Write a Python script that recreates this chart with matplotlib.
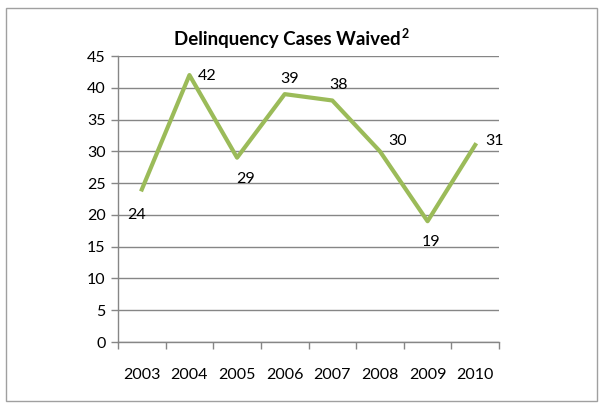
import matplotlib
matplotlib.use("Agg")
import matplotlib.pyplot as plt
from matplotlib.patches import Rectangle

years = ["2003", "2004", "2005", "2006", "2007", "2008", "2009", "2010"]
cases = [24, 42, 29, 39, 38, 30, 19, 31]
# label offsets in pixels (dx, dy) relative to each point
label_offsets = [(-5, -26), (18, -1), (9, -21), (5, 15), (6, 15), (18, 10), (3, -21), (19, 4)]

plt.rcParams['font.family'] = ['Lato', 'DejaVu Sans']

fig = plt.figure(figsize=(5.99, 4.03), dpi=100)
ax = fig.add_axes([118 / 599, 1 - 342 / 403, 381 / 599, 286 / 403])

x = list(range(len(years)))
ax.plot(x, cases, color="#9BBB59", lw=3, solid_joinstyle="round", zorder=3)

for xi, v, (dx, dy) in zip(x, cases, label_offsets):
    ax.annotate(str(v), (xi, v), xytext=(dx, dy), textcoords="offset pixels",
                ha="center", va="center", fontsize=11.5, color="black")

ax.set_ylim(0, 45)
ax.set_yticks(range(0, 46, 5))
ax.set_xlim(-0.5, len(years) - 0.5)
ax.set_xticks([i - 0.5 for i in range(len(years) + 1)])
ax.set_xticklabels([])
ax.set_xticks(x, minor=True)
ax.set_xticklabels(years, minor=True)
ax.tick_params(axis="x", which="minor", length=0, pad=19, labelsize=11.5)
ax.tick_params(axis="x", which="major", length=5, color="#868686", width=1)
ax.tick_params(axis="y", length=5, color="#868686", width=1, labelsize=11.5, pad=4)

ax.grid(axis="y", color="#868686", lw=1)
ax.set_axisbelow(True)
for s in ["top", "right"]:
    ax.spines[s].set_visible(False)
for s in ["left", "bottom"]:
    ax.spines[s].set_color("#868686")
    ax.spines[s].set_linewidth(1)

title = fig.text(287 / 599, 1 - 40 / 403, "Delinquency Cases Waived", ha="center", va="center",
                 fontsize=13.5, fontweight="bold")
ax.annotate("2", xy=(1, 1), xycoords=title, xytext=(1, 4), textcoords="offset pixels",
            ha="left", va="top", fontsize=9, fontweight="bold", annotation_clip=False)

fig.patches.append(Rectangle((6 / 599, 1 - 401 / 403), 591 / 599, 393 / 403,
                             transform=fig.transFigure, fill=False,
                             edgecolor="#a0a0a0", lw=1))

fig.savefig("out.png", dpi=100)
